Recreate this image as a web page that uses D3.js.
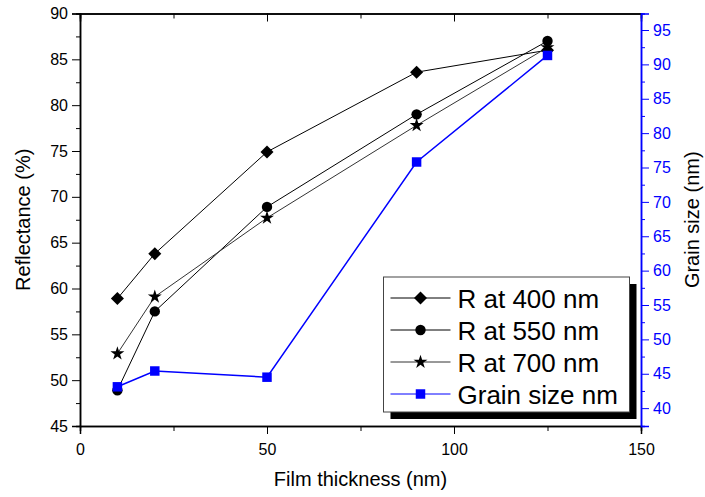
<!DOCTYPE html>
<html lang="en">
<head>
  <meta charset="UTF-8">
  <title>Reflectance and grain size vs film thickness</title>
  <script src="https://d3js.org/d3.v7.min.js"></script>
  <style>
    body { margin: 0; background: #fff; font-family: "Liberation Sans", Arial, sans-serif; }
    .tick text { font-size: 16px; font-family: "Liberation Sans", Arial, sans-serif; }
    .axis-title { font-size: 20px; }
    .legend text { font-size: 26px; }
  </style>
</head>
<body>
<svg width="705" height="497"></svg>
<script>
// data
const thickness = [10, 20, 50, 90, 125];
const r400 = [58.9, 63.8, 74.9, 83.6, 86.0];
const r550 = [48.9, 57.5, 68.9, 79.0, 87.0];
const r700 = [52.9, 59.1, 67.7, 77.8, 86.3];
const grain = [43.1, 45.4, 44.5, 75.8, 91.3];

const xTicks = [0, 50, 100, 150];
const leftTicks = [45, 50, 55, 60, 65, 70, 75, 80, 85, 90];
const rightTicks = [40, 45, 50, 55, 60, 65, 70, 75, 80, 85, 90, 95];

const svg = d3.select("svg"),
      margin = { top: 13.5, right: 64, bottom: 71, left: 80 },
      width = +svg.attr("width") - margin.left - margin.right,
      height = +svg.attr("height") - margin.top - margin.bottom,
      g = svg.append("g").attr("transform", `translate(${margin.left},${margin.top})`);

const x = d3.scaleLinear().domain([0, 150]).range([0, width]);
const y = d3.scaleLinear().domain([45, 90]).range([height, 0]);
const y2 = d3.scaleLinear().domain([37.4, 97.4]).range([height, 0]);

// minor ticks
g.append("g")
  .attr("transform", `translate(0,${height})`)
  .call(d3.axisBottom(x).tickValues([25, 75, 125]).tickSize(5).tickFormat(""));
g.append("g")
  .call(d3.axisTop(x).tickValues([25, 75, 125]).tickSize(-5).tickFormat(""));
g.append("g")
  .call(d3.axisTop(x).tickValues([50, 100]).tickSize(-8).tickFormat(""));
g.append("g")
  .call(d3.axisLeft(y).tickValues(d3.range(47.5, 90, 5)).tickSize(4).tickFormat(""));

// main axes
g.append("g")
  .attr("transform", `translate(0,${height})`)
  .call(d3.axisBottom(x).tickValues(xTicks).tickSize(8).tickPadding(10));
g.append("g")
  .call(d3.axisLeft(y).tickValues(leftTicks).tickSize(8).tickPadding(4));

const right = g.append("g")
  .attr("transform", `translate(${width},0)`);
right.append("g")
  .call(d3.axisRight(y2).tickValues(d3.range(42.5, 97.5, 5)).tickSize(4).tickFormat(""));
right.append("g")
  .call(d3.axisRight(y2).tickValues(rightTicks).tickSize(8).tickPadding(4));
right.selectAll("path, line").attr("stroke", "#0000ff");
right.selectAll("text").attr("fill", "#0000ff");

g.selectAll(".domain").attr("stroke-width", 1.5);

// axis titles
g.append("text")
  .attr("class", "axis-title")
  .attr("x", width / 2)
  .attr("y", height + 60)
  .attr("text-anchor", "middle")
  .text("Film thickness (nm)");

g.append("text")
  .attr("class", "axis-title")
  .attr("transform", "rotate(-90)")
  .attr("x", -height / 2)
  .attr("y", -50)
  .attr("text-anchor", "middle")
  .text("Reflectance (%)");

g.append("text")
  .attr("class", "axis-title")
  .attr("transform", "rotate(-90)")
  .attr("x", -height / 2)
  .attr("y", width + 58)
  .attr("text-anchor", "middle")
  .text("Grain size (nm)");

const series = [
  { name: "R at 400 nm", values: r400, scale: y, color: "#000", line: "#000", shape: "diamond" },
  { name: "R at 550 nm", values: r550, scale: y, color: "#000", line: "#000", shape: "circle" },
  { name: "R at 700 nm", values: r700, scale: y, color: "#000", line: "#333", shape: "star" },
  { name: "Grain size nm", values: grain, scale: y2, color: "#0000ff", line: "#0000ff", shape: "square" }
];

function marker(sel, shape, color) {
  if (shape === "diamond") {
    sel.append("path").attr("d", d3.symbol(d3.symbolSquare, 85)()).attr("transform", "rotate(45)").attr("fill", color);
  } else if (shape === "circle") {
    sel.append("path").attr("d", d3.symbol(d3.symbolCircle, 85)()).attr("fill", color);
  } else if (shape === "star") {
    sel.append("path").attr("d", d3.symbol(d3.symbolStar, 60)()).attr("fill", color);
  } else {
    sel.append("path").attr("d", d3.symbol(d3.symbolSquare, 90)()).attr("fill", color);
  }
}

series.forEach(s => {
  const line = d3.line()
    .x((d, i) => x(thickness[i]))
    .y(d => s.scale(d));
  g.append("path")
    .attr("d", line(s.values))
    .attr("fill", "none")
    .attr("stroke", s.line)
    .attr("stroke-width", s.shape === "square" ? 1.5 : 1);
});

series.forEach(s => {
  s.values.forEach((v, i) => {
    const m = g.append("g").attr("transform", `translate(${x(thickness[i])},${s.scale(v)})`);
    marker(m, s.shape, s.color);
  });
});

// legend
const legend = svg.append("g").attr("class", "legend").attr("transform", "translate(383.5,277)");
legend.append("rect").attr("x", 7).attr("y", 7).attr("width", 246).attr("height", 135).attr("fill", "#000");
legend.append("rect").attr("width", 246).attr("height", 135).attr("fill", "#fff").attr("stroke", "#444");

series.forEach((s, i) => {
  const row = legend.append("g").attr("transform", `translate(0,${21 + i * 32})`);
  row.append("line").attr("x1", 7).attr("x2", 67).attr("stroke", s.line).attr("stroke-width", 1);
  const m = row.append("g").attr("transform", "translate(37,0)");
  marker(m, s.shape, s.color);
  row.append("text").attr("x", 74).attr("y", 9.5).text(s.name);
});
</script>
</body>
</html>
